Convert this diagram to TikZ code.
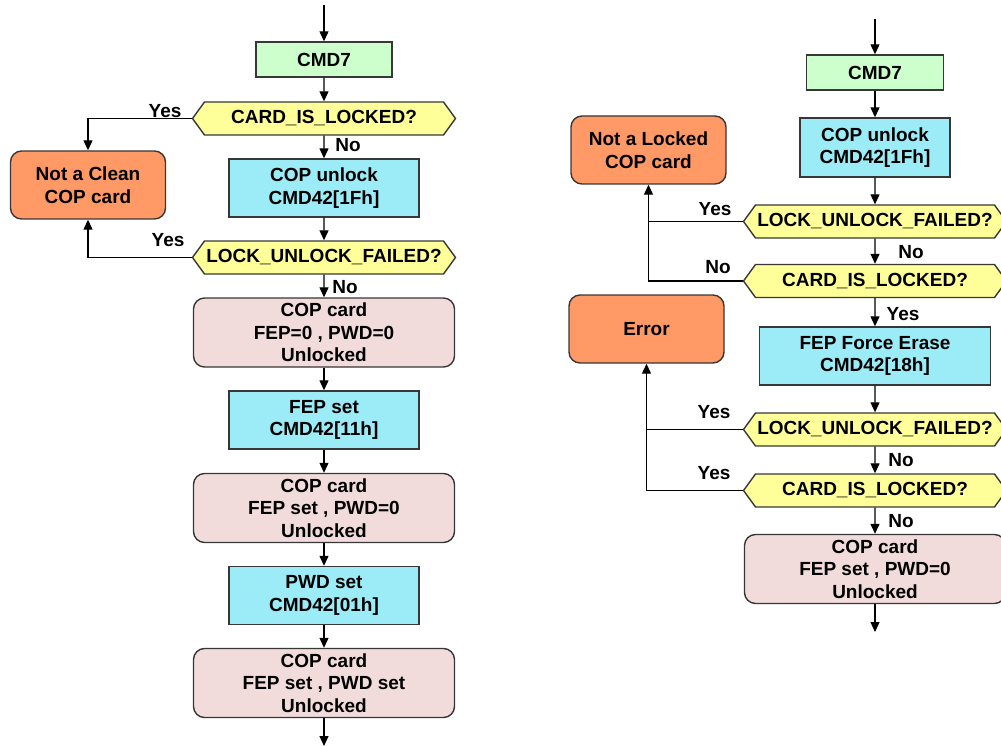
\documentclass[tikz,border=0pt]{standalone}
\usepackage{fontspec}
\setmainfont{Liberation Sans}
\usetikzlibrary{arrows.meta,shapes.symbols}
\definecolor{cmdgreen}{RGB}{204,255,204}
\definecolor{opcyan}{RGB}{156,236,247}
\definecolor{errorange}{RGB}{255,153,102}
\definecolor{statepink}{RGB}{242,220,219}
\definecolor{testyellow}{RGB}{255,255,153}
\definecolor{boxline}{RGB}{55,55,55}

\begin{document}
\begin{tikzpicture}[x=1pt,y=-1pt]
   \tikzstyle{every node}=[font=\bfseries\fontsize{19}{22.5}\selectfont, align=center, inner sep=0pt]
   \tikzstyle{box}=[draw=boxline, line width=1.4pt]
   \tikzstyle{cmdbox}=[box, fill=cmdgreen, minimum width=136pt, minimum height=35pt]
   \tikzstyle{opbox}=[box, fill=opcyan, minimum width=190pt, minimum height=58pt]
   \tikzstyle{statebox}=[box, fill=statepink, rounded corners=11pt, minimum width=261pt, minimum height=69pt]
   \tikzstyle{endbox}=[box, fill=errorange, rounded corners=11pt, minimum width=155pt, minimum height=68pt]
   \tikzstyle{testbox}=[box, fill=testyellow, signal, signal to=east and west, signal pointer angle=108, minimum width=263pt, minimum height=33pt]
   \tikzstyle{flow}=[line width=1.2pt, -{Triangle[length=10pt,width=9pt]}]
   \tikzstyle{line}=[line width=1.2pt]
   \tikzstyle{answer}=[]

\useasboundingbox (0,0) rectangle (1001,746);
\clip (0,0) rectangle (1001,746);

% left flow
\coordinate (Lin) at (324,5);
\node[cmdbox] (Lcmd) at (324,59.5) {CMD7};
\node[testbox] (Llock) at (324,118.5) {CARD\_IS\_LOCKED?};
\node[opbox] (Lunlock) at (324,188) {COP unlock\\CMD42[1Fh]};
\node[endbox] (Lclean) at (88,185) {Not a Clean\\COP card};
\node[testbox] (Lfail) at (324,257.5) {LOCK\_UNLOCK\_FAILED?};
\node[statebox] (Lstate1) at (324,332.5) {COP card\\FEP=0 , PWD=0\\Unlocked};
\node[opbox] (Lfep) at (324,420) {FEP set\\CMD42[11h]};
\node[statebox] (Lstate2) at (324,508) {COP card\\FEP set , PWD=0\\Unlocked};
\node[opbox] (Lpwd) at (324,595.5) {PWD set\\CMD42[01h]};
\node[statebox] (Lstate3) at (324,683) {COP card\\FEP set , PWD set\\Unlocked};
\coordinate (Lout) at (324,746);

\draw[flow] (Lin) -- (Lcmd);
\draw[flow] (Lcmd) -- (Llock);
\draw[flow] (Llock) -- (Lunlock);
\draw[flow] (Lunlock) -- (Lfail);
\draw[flow] (Lfail) -- (Lstate1);
\draw[flow] (Lstate1) -- (Lfep);
\draw[flow] (Lfep) -- (Lstate2);
\draw[flow] (Lstate2) -- (Lpwd);
\draw[flow] (Lpwd) -- (Lstate3);
\draw[flow] (Lstate3) -- (Lout);
\draw[flow] (Llock.west) -| (Lclean.north);
\draw[flow] (Lfail.west) -| (Lclean.south);

\node[answer] (Lyes1) at (165,111) {Yes};
\node[answer] (Lno1) at (348,145) {No};
\node[answer] (Lyes2) at (168,240) {Yes};
\node[answer] (Lno2) at (345,287) {No};

% right flow
\coordinate (Rin) at (875,19);
\node[cmdbox, minimum width=137pt] (Rcmd) at (875,72.5) {CMD7};
\node[opbox, minimum width=150pt, minimum height=59pt] (Runlock) at (875,147.5) {COP unlock\\CMD42[1Fh]};
\node[testbox] (Rfail1) at (875,221.5) {LOCK\_UNLOCK\_FAILED?};
\node[endbox] (Rnotlock) at (648.5,150) {Not a Locked\\COP card};
\node[testbox] (Rlock1) at (875,281) {CARD\_IS\_LOCKED?};
\node[endbox] (Rerror) at (646.5,329) {Error};
\node[opbox, minimum width=231pt] (Rforce) at (875,356) {FEP Force Erase\\CMD42[18h]};
\node[testbox] (Rfail2) at (875,429.5) {LOCK\_UNLOCK\_FAILED?};
\node[testbox] (Rlock2) at (875,490.5) {CARD\_IS\_LOCKED?};
\node[statebox] (Rstate) at (875,569) {COP card\\FEP set , PWD=0\\Unlocked};
\coordinate (Rout) at (875,632);

\draw[flow] (Rin) -- (Rcmd);
\draw[flow] (Rcmd) -- (Runlock);
\draw[flow] (Runlock) -- (Rfail1);
\draw[flow] (Rfail1) -- (Rlock1);
\draw[flow] (Rlock1) -- (Rforce);
\draw[flow] (Rforce) -- (Rfail2);
\draw[flow] (Rfail2) -- (Rlock2);
\draw[flow] (Rlock2) -- (Rstate);
\draw[flow] (Rstate) -- (Rout);
\draw[flow] (Rfail1.west) -| (Rnotlock.south);
\draw[line] (Rlock1.west) -| (Rfail1.west -| Rnotlock.south);
\draw[flow] (Rfail2.west) -| (Rerror.south);
\draw[line] (Rlock2.west) -| (Rfail2.west -| Rerror.south);

\node[answer] (Ryes1) at (715,209) {Yes};
\node[answer] (Rno1) at (911,252) {No};
\node[answer] (Rno2) at (718,267) {No};
\node[answer] (Ryes2) at (903,314) {Yes};
\node[answer] (Ryes3) at (714,412) {Yes};
\node[answer] (Rno3) at (901,460) {No};
\node[answer] (Ryes4) at (714,473) {Yes};
\node[answer] (Rno4) at (901,521) {No};

\end{tikzpicture}
\end{document}
